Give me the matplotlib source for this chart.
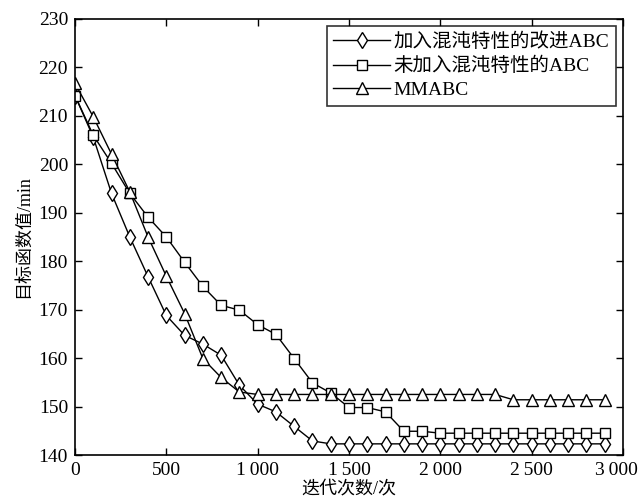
import matplotlib
matplotlib.use("Agg")
import matplotlib.pyplot as plt
import matplotlib.transforms as mtransforms
import numpy as np

plt.rcParams['font.family'] = ['Liberation Serif', 'Noto Sans CJK SC']
plt.rcParams['mathtext.fontset'] = 'stix'

iterations = list(range(0, 3000, 100))

improved_abc = [214.2, 205.6, 194.0, 185.0, 176.8, 168.8, 164.7, 162.9, 160.6, 154.4,
                150.5, 148.9, 145.9, 142.9, 142.3, 142.3, 142.3, 142.3, 142.3, 142.3,
                142.3, 142.3, 142.3, 142.3, 142.3, 142.3, 142.3, 142.3, 142.3, 142.3]
plain_abc = [214.2, 206.0, 200.2, 194.0, 189.1, 185.0, 179.8, 174.8, 170.9, 169.9,
             166.9, 164.9, 159.9, 154.9, 152.8, 149.8, 149.8, 148.9, 144.9, 144.9,
             144.5, 144.5, 144.5, 144.5, 144.5, 144.5, 144.5, 144.5, 144.5, 144.5]
mmabc = [216.7, 209.8, 202.1, 194.3, 185.0, 176.9, 169.2, 159.9, 156.0, 153.0,
         152.5, 152.5, 152.5, 152.5, 152.5, 152.5, 152.5, 152.5, 152.5, 152.5,
         152.5, 152.5, 152.5, 152.5, 151.4, 151.4, 151.4, 151.4, 151.4, 151.4]

labels = ['加入混沌特性的改进ABC', '未加入混沌特性的ABC', 'MMABC']
xticks = [0, 500, 1000, 1500, 2000, 2500, 3000]
xticklabels = ['0', '500', '1\u2009000', '1\u2009500', '2\u2009000', '2\u2009500', '3\u2009000']
yticks = list(range(140, 231, 10))

fig = plt.figure(figsize=(6.4, 4.99), dpi=100)
ax = fig.add_axes([75/640, 1-455/499, (623-75)/640, (455-19)/499])

common = dict(color='black', lw=1.0, markerfacecolor='white', markeredgecolor='black',
              markeredgewidth=1.0)
ax.plot(iterations, improved_abc, marker='d', markersize=8, label=labels[0], **common)
ax.plot(iterations, plain_abc, marker='s', markersize=7, label=labels[1], **common)
ax.plot(iterations, mmabc, marker='^', markersize=8, label=labels[2], **common)

ax.set_xlim(0, 3000)
ax.set_ylim(140, 230)
ax.set_xticks(xticks)
ax.set_xticklabels(xticklabels)
ax.set_yticks(yticks)
ax.tick_params(direction='in', top=True, right=True, length=5, width=1, labelsize=14, pad=5)
for s in ax.spines.values():
    s.set_linewidth(1.2)

# the last x tick label sits slightly left of its tick, as in the reference
last = ax.get_xticklabels()[-1]
last.set_transform(last.get_transform() +
                   mtransforms.ScaledTranslation(-7/100, 0, fig.dpi_scale_trans))

ax.set_xlabel('迭代次数/次', fontsize=13, labelpad=1)
ax.set_ylabel('目标函数值/min', fontsize=13, labelpad=5)

leg = ax.legend(loc='upper right', fontsize=14, frameon=True, fancybox=False,
                edgecolor='black', handlelength=2.9, labelspacing=0.3, borderpad=0.35,
                handletextpad=0.2, borderaxespad=0.35)
leg.get_frame().set_linewidth(1.2)

fig.savefig('out.png', dpi=100)
